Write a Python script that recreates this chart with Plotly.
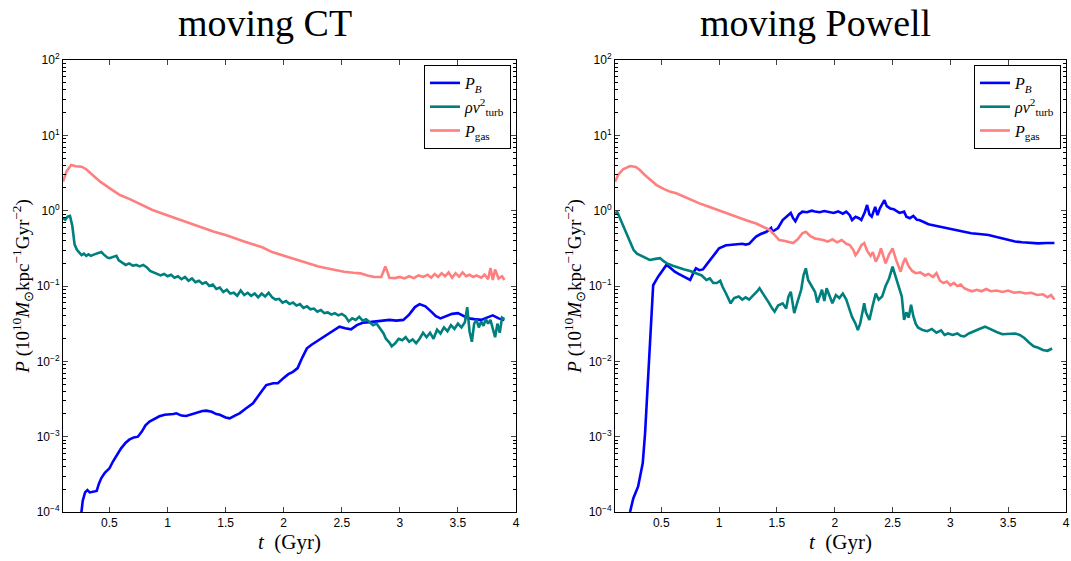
import numpy as np
import plotly.graph_objects as go

# ---------------- data (P stored as log10 readings) ----------------
# moving CT
t_gas_ct = [0.10, 0.13, 0.17, 0.21, 0.26, 0.30, 0.35, 0.42, 0.50, 0.59, 0.68, 0.78, 0.87, 0.96, 1.05, 1.13,
            1.22, 1.31, 1.40, 1.50, 1.58, 1.66, 1.74, 1.82, 1.90, 1.98, 2.06, 2.14, 2.22, 2.30, 2.37, 2.44,
            2.52, 2.60, 2.66, 2.72, 2.78, 2.84, 2.86, 2.875, 2.89, 2.91, 2.96, 3.00, 3.04, 3.08, 3.12, 3.16,
            3.20, 3.24, 3.27, 3.30, 3.33, 3.36, 3.39, 3.42, 3.45, 3.48, 3.51, 3.54, 3.57, 3.60, 3.63, 3.66,
            3.70, 3.73, 3.76, 3.78, 3.80, 3.82, 3.85, 3.88, 3.90]
logp_gas_ct = [0.385, 0.52, 0.606, 0.59, 0.584, 0.55, 0.48, 0.385, 0.30, 0.208, 0.15, 0.08, 0.009, -0.04, -0.09,
               -0.14, -0.19, -0.23, -0.28, -0.323, -0.37, -0.41, -0.45, -0.49, -0.55, -0.59, -0.625, -0.66,
               -0.70, -0.74, -0.765, -0.79, -0.81, -0.825, -0.832, -0.86, -0.88, -0.88, -0.80, -0.74, -0.80,
               -0.89, -0.895, -0.88, -0.90, -0.87, -0.895, -0.86, -0.88, -0.85, -0.89, -0.84, -0.88, -0.83,
               -0.87, -0.82, -0.89, -0.83, -0.875, -0.82, -0.87, -0.85, -0.88, -0.86, -0.89, -0.85, -0.91,
               -0.76, -0.92, -0.78, -0.90, -0.87, -0.92]

t_turb_ct = [0.10, 0.12, 0.14, 0.16, 0.18, 0.20, 0.22, 0.24, 0.26, 0.28, 0.30, 0.32, 0.34, 0.37, 0.40, 0.43,
             0.45, 0.48, 0.50, 0.53, 0.56, 0.58, 0.61, 0.64, 0.67, 0.70, 0.73, 0.76, 0.79, 0.82, 0.85, 0.88,
             0.91, 0.94, 0.97, 1.00, 1.03, 1.06, 1.09, 1.12, 1.15, 1.18, 1.21, 1.24, 1.27, 1.30, 1.33, 1.36,
             1.39, 1.42, 1.45, 1.48, 1.51, 1.54, 1.57, 1.60, 1.63, 1.66, 1.69, 1.72, 1.75, 1.78, 1.81, 1.84,
             1.87, 1.90, 1.93, 1.96, 1.99, 2.02, 2.05, 2.08, 2.11, 2.14, 2.17, 2.20, 2.23, 2.26, 2.29, 2.32,
             2.35, 2.38, 2.41, 2.44, 2.47, 2.50, 2.53, 2.56, 2.59, 2.62, 2.65, 2.68, 2.71, 2.74, 2.77, 2.80,
             2.83, 2.86, 2.88, 2.91, 2.93, 2.96, 2.99, 3.02, 3.05, 3.08, 3.11, 3.14, 3.17, 3.20, 3.23, 3.26,
             3.29, 3.32, 3.35, 3.38, 3.41, 3.44, 3.47, 3.50, 3.53, 3.56, 3.58, 3.60, 3.62, 3.64, 3.66, 3.68,
             3.70, 3.72, 3.74, 3.76, 3.78, 3.80, 3.82, 3.84, 3.86, 3.88, 3.90]
logp_turb_ct = [-0.10, -0.12, -0.08, -0.07, -0.20, -0.45, -0.52, -0.56, -0.59, -0.57, -0.60, -0.58, -0.60, -0.58,
                -0.57, -0.55, -0.58, -0.62, -0.63, -0.62, -0.60, -0.66, -0.69, -0.72, -0.70, -0.73, -0.72, -0.74,
                -0.72, -0.75, -0.80, -0.82, -0.83, -0.86, -0.84, -0.87, -0.85, -0.89, -0.87, -0.91, -0.88, -0.93,
                -0.90, -0.95, -0.93, -0.97, -0.95, -1.00, -0.98, -1.04, -1.02, -1.08, -1.05, -1.10, -1.09, -1.13,
                -1.06, -1.12, -1.09, -1.13, -1.10, -1.15, -1.10, -1.14, -1.09, -1.15, -1.18, -1.17, -1.22, -1.20,
                -1.24, -1.22, -1.26, -1.24, -1.29, -1.27, -1.31, -1.30, -1.34, -1.32, -1.36, -1.35, -1.38, -1.36,
                -1.39, -1.37, -1.40, -1.47, -1.43, -1.45, -1.41, -1.46, -1.44, -1.48, -1.52, -1.50, -1.56, -1.63,
                -1.70, -1.75, -1.80, -1.76, -1.70, -1.72, -1.68, -1.74, -1.71, -1.76, -1.70, -1.62, -1.68, -1.62,
                -1.70, -1.58, -1.63, -1.55, -1.60, -1.52, -1.57, -1.50, -1.55, -1.48, -1.28, -1.60, -1.74, -1.50,
                -1.45, -1.55, -1.47, -1.53, -1.44, -1.50, -1.45, -1.55, -1.68, -1.50, -1.62, -1.42, -1.44]

t_b_ct = [0.255, 0.27, 0.29, 0.31, 0.33, 0.36, 0.39, 0.41, 0.43, 0.46, 0.50, 0.53, 0.56, 0.60, 0.64, 0.67, 0.71,
          0.745, 0.78, 0.81, 0.845, 0.89, 0.93, 0.975, 1.02, 1.05, 1.076, 1.12, 1.16, 1.21, 1.26, 1.30, 1.334,
          1.38, 1.42, 1.45, 1.50, 1.535, 1.58, 1.62, 1.68, 1.736, 1.79, 1.85, 1.91, 1.95, 2.00, 2.04, 2.08,
          2.12, 2.16, 2.20, 2.24, 2.28, 2.33, 2.37, 2.43, 2.48, 2.53, 2.58, 2.63, 2.68, 2.74, 2.80, 2.86, 2.91,
          2.97, 3.03, 3.08, 3.13, 3.17, 3.22, 3.27, 3.31, 3.35, 3.40, 3.45, 3.50, 3.55, 3.59, 3.64, 3.70, 3.75,
          3.80, 3.85, 3.90]
logp_b_ct = [-4.05, -3.85, -3.74, -3.71, -3.74, -3.73, -3.72, -3.62, -3.55, -3.48, -3.42, -3.33, -3.25, -3.155,
             -3.08, -3.04, -3.01, -3.0, -2.93, -2.85, -2.80, -2.76, -2.73, -2.71, -2.71, -2.70, -2.69, -2.72,
             -2.725, -2.70, -2.68, -2.66, -2.655, -2.67, -2.70, -2.71, -2.745, -2.757, -2.72, -2.69, -2.62,
             -2.557, -2.44, -2.315, -2.29, -2.29, -2.22, -2.17, -2.14, -2.09, -1.95, -1.827, -1.78, -1.74, -1.69,
             -1.65, -1.59, -1.54, -1.56, -1.575, -1.52, -1.487, -1.48, -1.47, -1.46, -1.45, -1.46, -1.45, -1.38,
             -1.28, -1.24, -1.27, -1.34, -1.40, -1.43, -1.40, -1.37, -1.36, -1.40, -1.43, -1.44, -1.45, -1.42,
             -1.39, -1.43, -1.45]

# moving Powell
t_gas_pw = [0.10, 0.13, 0.17, 0.23, 0.28, 0.315, 0.36, 0.41, 0.46, 0.52, 0.58, 0.63, 0.70, 0.76, 0.83, 0.90,
            0.97, 1.03, 1.10, 1.17, 1.24, 1.32, 1.38, 1.44, 1.48, 1.52, 1.56, 1.60, 1.64, 1.68, 1.72, 1.75,
            1.79, 1.83, 1.87, 1.90, 1.94, 1.98, 2.02, 2.06, 2.10, 2.13, 2.16, 2.18, 2.20, 2.23, 2.255, 2.28,
            2.31, 2.33, 2.355, 2.38, 2.40, 2.42, 2.44, 2.47, 2.50, 2.53, 2.55, 2.57, 2.59, 2.61, 2.64, 2.67,
            2.70, 2.74, 2.78, 2.81, 2.85, 2.88, 2.91, 2.94, 2.97, 3.00, 3.03, 3.06, 3.09, 3.12, 3.15, 3.19,
            3.23, 3.27, 3.31, 3.35, 3.40, 3.45, 3.50, 3.55, 3.60, 3.65, 3.70, 3.75, 3.80, 3.84, 3.87, 3.90]
logp_gas_pw = [0.385, 0.48, 0.55, 0.593, 0.58, 0.54, 0.47, 0.40, 0.34, 0.29, 0.25, 0.23, 0.18, 0.14, 0.097,
               0.06, 0.02, -0.013, -0.06, -0.10, -0.13, -0.17, -0.21, -0.257, -0.32, -0.39, -0.40, -0.42,
               -0.43, -0.38, -0.30, -0.28, -0.34, -0.37, -0.38, -0.39, -0.41, -0.38, -0.42, -0.39, -0.44,
               -0.456, -0.52, -0.59, -0.55, -0.46, -0.43, -0.53, -0.60, -0.55, -0.677, -0.60, -0.50, -0.62,
               -0.70, -0.58, -0.50, -0.65, -0.72, -0.81, -0.70, -0.63, -0.74, -0.80, -0.83, -0.82, -0.86,
               -0.84, -0.88, -0.83, -0.93, -0.96, -0.94, -0.99, -0.96, -1.00, -0.98, -1.03, -1.05, -1.07,
               -1.05, -1.07, -1.04, -1.07, -1.06, -1.08, -1.06, -1.09, -1.08, -1.10, -1.09, -1.12, -1.11,
               -1.15, -1.12, -1.18]

t_turb_pw = [0.10, 0.12, 0.14, 0.17, 0.20, 0.23, 0.26, 0.29, 0.315, 0.35, 0.40, 0.45, 0.49, 0.52, 0.55, 0.60,
             0.66, 0.70, 0.75, 0.80, 0.85, 0.89, 0.92, 0.95, 0.98, 1.01, 1.03, 1.06, 1.10, 1.13, 1.17, 1.20,
             1.23, 1.26, 1.30, 1.33, 1.35, 1.38, 1.40, 1.43, 1.46, 1.48, 1.51, 1.55, 1.58, 1.60, 1.62, 1.64,
             1.65, 1.68, 1.71, 1.73, 1.75, 1.77, 1.80, 1.83, 1.85, 1.87, 1.89, 1.91, 1.93, 1.96, 1.98, 2.01,
             2.04, 2.07, 2.10, 2.13, 2.15, 2.18, 2.20, 2.22, 2.255, 2.27, 2.30, 2.33, 2.355, 2.38, 2.41, 2.44,
             2.47, 2.50, 2.52, 2.55, 2.58, 2.60, 2.62, 2.64, 2.66, 2.68, 2.70, 2.72, 2.76, 2.80, 2.84, 2.88,
             2.92, 2.95, 2.98, 3.02, 3.06, 3.09, 3.12, 3.16, 3.20, 3.25, 3.30, 3.35, 3.40, 3.45, 3.50, 3.56,
             3.60, 3.64, 3.68, 3.72, 3.76, 3.80, 3.84, 3.88]
logp_turb_pw = [-0.035, -0.02, -0.09, -0.20, -0.30, -0.42, -0.52, -0.57, -0.59, -0.62, -0.655, -0.64, -0.63,
                -0.67, -0.70, -0.73, -0.765, -0.78, -0.80, -0.83, -0.86, -0.92, -0.90, -0.96, -0.96, -0.93,
                -1.01, -1.10, -1.23, -1.16, -1.14, -1.18, -1.15, -1.18, -1.12, -1.07, -1.03, -1.10, -1.14,
                -1.22, -1.30, -1.34, -1.26, -1.23, -1.30, -1.14, -1.076, -1.25, -1.36, -1.20, -1.05, -0.86,
                -0.765, -0.92, -1.01, -1.08, -1.22, -1.14, -1.05, -1.20, -1.03, -1.15, -1.23, -1.12, -1.16,
                -1.10, -1.18, -1.32, -1.41, -1.50, -1.585, -1.50, -1.23, -1.35, -1.45, -1.25, -1.10, -1.18,
                -1.14, -1.00, -0.90, -0.744, -0.85, -1.00, -1.14, -1.45, -1.35, -1.42, -1.25, -1.40, -1.50,
                -1.55, -1.585, -1.60, -1.57, -1.62, -1.59, -1.65, -1.63, -1.65, -1.63, -1.66, -1.67, -1.63,
                -1.60, -1.57, -1.54, -1.58, -1.61, -1.64, -1.64, -1.63, -1.65, -1.69, -1.75, -1.80, -1.82,
                -1.85, -1.86, -1.83]

t_b_pw = [0.23, 0.258, 0.30, 0.34, 0.36, 0.378, 0.396, 0.416, 0.43, 0.473, 0.51, 0.545, 0.58, 0.617, 0.65, 0.69,
          0.72, 0.75, 0.78, 0.80, 0.83, 0.86, 0.89, 0.92, 0.95, 0.97, 1.00, 1.03, 1.06, 1.09, 1.13, 1.17, 1.20,
          1.23, 1.26, 1.29, 1.32, 1.36, 1.41, 1.45, 1.46, 1.48, 1.51, 1.55, 1.58, 1.62, 1.64, 1.66, 1.69, 1.72,
          1.76, 1.80, 1.83, 1.87, 1.91, 1.95, 1.99, 2.03, 2.07, 2.10, 2.13, 2.15, 2.18, 2.21, 2.23, 2.26, 2.28,
          2.30, 2.32, 2.35, 2.37, 2.39, 2.41, 2.43, 2.45, 2.48, 2.51, 2.53, 2.56, 2.60, 2.62, 2.65, 2.68, 2.71,
          2.73, 2.77, 2.81, 2.84, 2.90, 2.96, 3.01, 3.05, 3.11, 3.18, 3.25, 3.33, 3.40, 3.45, 3.50, 3.56, 3.62,
          3.69, 3.76, 3.83, 3.90]
logp_b_pw = [-4.0, -3.82, -3.66, -3.35, -2.955, -2.425, -1.805, -1.32, -0.99, -0.876, -0.80, -0.72, -0.76,
             -0.81, -0.84, -0.876, -0.90, -0.92, -0.82, -0.765, -0.79, -0.78, -0.72, -0.655, -0.60, -0.56,
             -0.50, -0.48, -0.46, -0.456, -0.45, -0.44, -0.44, -0.45, -0.44, -0.39, -0.345, -0.31, -0.28,
             -0.23, -0.28, -0.26, -0.23, -0.124, -0.08, -0.03, -0.10, -0.14, -0.05, -0.013, -0.02, 0.0, -0.01,
             -0.02, -0.005, -0.013, -0.03, -0.01, -0.04, -0.013, -0.06, -0.124, -0.08, -0.10, -0.124, -0.02,
             0.075, -0.05, -0.08, 0.05, -0.06, 0.03, 0.08, 0.14, 0.06, 0.03, 0.02, 0.0, -0.03, -0.013, -0.08,
             -0.10, -0.07, -0.12, -0.124, -0.15, -0.18, -0.19, -0.21, -0.23, -0.25, -0.257, -0.28, -0.30,
             -0.31, -0.323, -0.35, -0.37, -0.39, -0.41, -0.42, -0.43, -0.434, -0.43, -0.43]

x_tick_vals = [0.5, 1, 1.5, 2, 2.5, 3, 3.5, 4]
x_tick_text = ["0.5", "1", "1.5", "2", "2.5", "3", "3.5", "4"]
y_tick_exps = [-4, -3, -2, -1, 0, 1, 2]
panel_titles = ["moving CT", "moving Powell"]

names = ["<i>P</i><sub><i>B</i></sub>",
         "<i>ρv</i><sup>2</sup><sub>turb</sub>",
         "<i>P</i><sub>gas</sub>"]
colors = ["#0000FF", "#007F7F", "#FF7F7F"]

# ---------------- figure ----------------
W, H = 1071, 561
fig = go.Figure()

panels = [
    ([(t_b_ct, logp_b_ct), (t_turb_ct, logp_turb_ct), (t_gas_ct, logp_gas_ct)], "x", "y", "legend"),
    ([(t_b_pw, logp_b_pw), (t_turb_pw, logp_turb_pw), (t_gas_pw, logp_gas_pw)], "x2", "y2", "legend2"),
]
for series, xa, ya, lg in panels:
    for (t, lp), nm, c in zip(series, names, colors):
        fig.add_trace(go.Scatter(x=t, y=10.0 ** np.array(lp), mode="lines", name=nm,
                                 line=dict(color=c, width=2.6), xaxis=xa, yaxis=ya, legend=lg))

ytickvals = [10.0 ** e for e in y_tick_exps]
yticktext = ["10<sup>%d</sup>" % e if e >= 0 else "10<sup>−%d</sup>" % (-e) for e in y_tick_exps]
minor_vals = [m * 10.0 ** e for e in range(-4, 2) for m in range(2, 10)]

tickfont = dict(family="Liberation Sans, Arial, sans-serif", size=12, color="black")
serif = "Liberation Serif, Times New Roman, serif"

top_px, bot_px = 60, 512
ydom = [1 - bot_px / H, 1 - top_px / H]
xdoms = [[63 / W, 516 / W], [615 / W, 1066 / W]]

ytitle = "<i>P</i> (10<sup>10</sup><i>M</i><sub>⊙</sub>kpc<sup>−1</sup>Gyr<sup>−2</sup>)"

common_x = dict(range=[0.1, 4], tickvals=x_tick_vals, ticktext=x_tick_text, ticks="inside", ticklen=5,
                showline=True, linecolor="black", linewidth=1, mirror="ticks", showgrid=False,
                zeroline=False, tickfont=tickfont, automargin=False,
                title=dict(text="<i>t</i>  (Gyr)", font=dict(family=serif, size=21, color="black"), standoff=2))
common_y = dict(type="log", range=[-4, 2], tickvals=ytickvals, ticktext=yticktext, ticks="inside", ticklen=5,
                showline=True, linecolor="black", linewidth=1, mirror="ticks", showgrid=False,
                zeroline=False, tickfont=tickfont, automargin=False,
                minor=dict(tickvals=minor_vals, ticks="inside", ticklen=3, tickcolor="black", showgrid=False),
                title=dict(text=ytitle, font=dict(family=serif, size=19, color="black"), standoff=2))

legend_common = dict(y=1 - 65 / H, xanchor="right", yanchor="top", bgcolor="white",
                     bordercolor="black", borderwidth=1, font=dict(family=serif, size=16, color="black"),
                     tracegroupgap=0, itemwidth=30)

fig.update_layout(
    template="none",
    width=W, height=H, margin=dict(l=0, r=0, t=0, b=0, autoexpand=False),
    paper_bgcolor="white", plot_bgcolor="white",
    xaxis=dict(domain=xdoms[0], anchor="y", **common_x),
    yaxis=dict(domain=ydom, anchor="x", **common_y),
    xaxis2=dict(domain=xdoms[1], anchor="y2", **common_x),
    yaxis2=dict(domain=ydom, anchor="x2", **common_y),
    legend=dict(x=511 / W, **legend_common),
    legend2=dict(x=1061 / W, **legend_common),
    showlegend=True,
)

for txt, cx in zip(panel_titles, [265, 815]):
    fig.add_annotation(text=txt, x=cx / W, y=1 - 23 / H, xref="paper", yref="paper", showarrow=False,
                       xanchor="center", yanchor="middle",
                       font=dict(family=serif, size=38, color="black"))

fig.write_html("out.html")
